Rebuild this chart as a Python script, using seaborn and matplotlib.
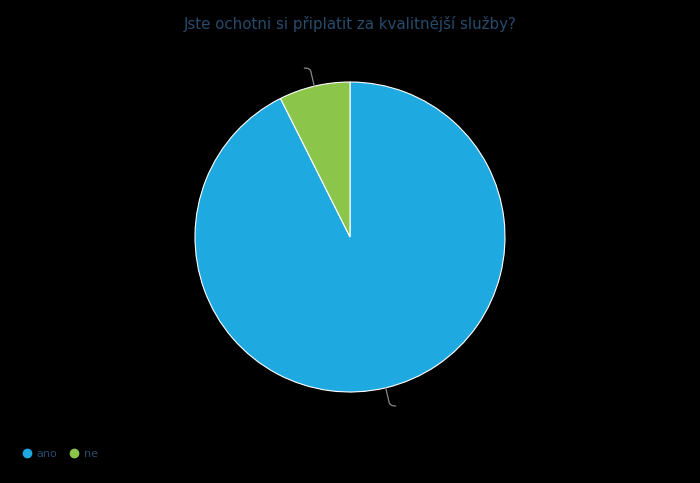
import numpy as np
import seaborn as sns
import matplotlib.pyplot as plt
from matplotlib.lines import Line2D

categories = ["ano", "ne"]
shares = [92.6, 7.4]
colors = ["#1fa9e1", "#8bc54a"]
title = "Jste ochotni si připlatit za kvalitnější služby?"

sns.set_style("white")
plt.rcParams["font.family"] = ["DejaVu Sans"]
palette = sns.color_palette(colors)

fig = plt.figure(figsize=(7, 4.83), dpi=100, facecolor="black")
ax = fig.add_axes([195 / 700, 91 / 483, 310 / 700, 310 / 483])
ax.set_facecolor("black")

wedges, _ = ax.pie(shares, colors=palette, startangle=90, counterclock=False,
                   radius=1, wedgeprops=dict(edgecolor="white", linewidth=0.8))
ax.set_xlim(-1, 1)
ax.set_ylim(-1, 1)
ax.set_aspect("equal")
ax.axis("off")

# leader lines (labels are invisible in the original)
for w in wedges:
    mid = np.deg2rad((w.theta1 + w.theta2) / 2)
    x0, y0 = np.cos(mid), np.sin(mid)
    x1, y1 = 1.105 * x0, 1.105 * y0
    side = 1 if x0 > 0 else -1
    ax.plot([x0, x1, x1 + 0.015 * side, x1 + 0.04 * side],
            [y0, y1, y1 + 0.012 * np.sign(y0), y1 + 0.015 * np.sign(y0)],
            color="#888888", lw=0.9, clip_on=False)

fig.text(0.5, 1 - 24 / 483, title, ha="center", va="center",
         fontsize=10.8, color="#274b6d")

handles = [Line2D([0], [0], marker="o", linestyle="", markersize=6,
                  markerfacecolor=c, markeredgecolor=c) for c in palette]
leg = fig.legend(handles, categories, loc="center left",
                 bbox_to_anchor=(10 / 700, 1 - 454 / 483), ncol=2,
                 frameon=False, fontsize=8, handletextpad=0.3,
                 columnspacing=0.85, handlelength=1.2)
for t in leg.get_texts():
    t.set_color("#274b6d")

fig.savefig("out.png", dpi=100, facecolor="black")
